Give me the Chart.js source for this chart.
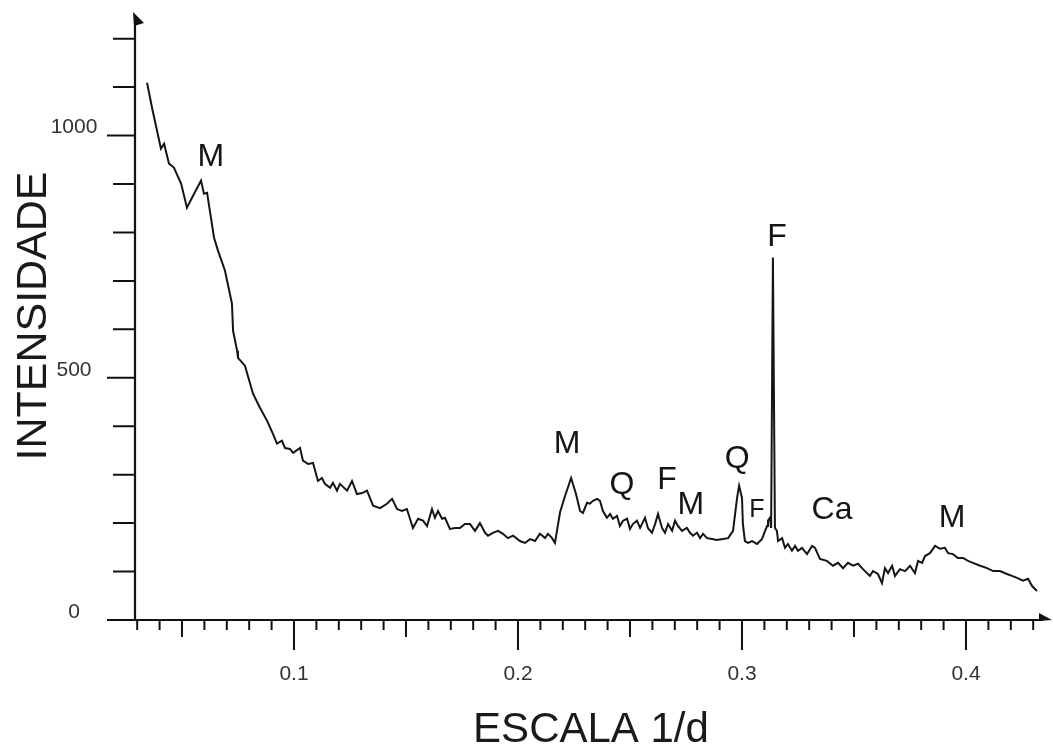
<!DOCTYPE html>
<html><head><meta charset="utf-8">
<script src="https://cdn.jsdelivr.net/npm/chart.js@4.4.0/dist/chart.umd.min.js"></script>
<style>html,body{margin:0;padding:0;background:#fff;}#wrap{width:1053px;height:746px;position:relative;}</style>
</head><body><div id="wrap"><canvas id="c" width="1053" height="746"></canvas></div>
<script>
// 1/d values (x) and intensities (y)
const xValues = [0.0344,0.0366,0.0406,0.0420,0.0442,0.0464,0.0496,0.0522,0.0554,0.0585,0.0598,0.0612,0.0621,0.0643,0.0661,0.0692,0.0723,0.0728,0.0746,0.0750,
0.0781,0.0804,0.0817,0.0848,0.0880,0.0906,0.0924,0.0946,0.0960,0.0982,0.0996,0.1027,0.1040,0.1063,0.1085,0.1107,0.1125,0.1138,0.1161,0.1174,
0.1192,0.1205,0.1237,0.1259,0.1281,0.1304,0.1326,0.1353,0.1384,0.1415,0.1438,0.1460,0.1482,0.1504,0.1531,0.1554,0.1576,0.1594,0.1616,0.1629,
0.1643,0.1661,0.1674,0.1696,0.1719,0.1741,0.1763,0.1786,0.1808,0.1830,0.1853,0.1866,0.1888,0.1911,0.1933,0.1955,0.1978,0.2009,0.2031,0.2054,
0.2076,0.2098,0.2121,0.2134,0.2152,0.2165,0.2188,0.2210,0.2237,0.2259,0.2277,0.2290,0.2308,0.2321,0.2335,0.2353,0.2366,0.2379,0.2397,0.2411,
0.2424,0.2442,0.2455,0.2469,0.2487,0.2500,0.2513,0.2531,0.2545,0.2567,0.2580,0.2598,0.2612,0.2625,0.2643,0.2656,0.2670,0.2688,0.2701,0.2714,
0.2732,0.2754,0.2768,0.2781,0.2799,0.2813,0.2826,0.2844,0.2866,0.2888,0.2915,0.2938,0.2960,0.2978,0.2987,0.3000,0.3004,0.3013,0.3027,0.3045,
0.3067,0.3089,0.3103,0.3112,0.3116,0.3125,0.3130,0.3138,0.3147,0.3156,0.3161,0.3179,0.3192,0.3205,0.3223,0.3237,0.3250,0.3268,0.3290,0.3313,
0.3326,0.3348,0.3379,0.3406,0.3429,0.3451,0.3473,0.3496,0.3518,0.3540,0.3571,0.3585,0.3607,0.3625,0.3638,0.3652,0.3670,0.3683,0.3705,0.3728,
0.3750,0.3772,0.3786,0.3804,0.3817,0.3839,0.3862,0.3884,0.3906,0.3920,0.3942,0.3964,0.3987,0.4009,0.4031,0.4063,0.4094,0.4121,0.4152,0.4183,
0.4205,0.4228,0.4254,0.4277,0.4295,0.4317];
const yValues = [1109,1058,973,983,942,934,901,851,880,907,880,882,855,789,762,721,653,597,556,541,
525,488,467,438,411,384,364,370,355,353,345,355,329,322,324,287,293,281,273,283,
267,281,267,287,260,262,267,236,231,240,250,229,225,229,190,209,205,194,229,211,
225,209,211,188,190,190,198,198,184,200,180,174,180,184,178,169,174,163,159,167,
163,178,169,178,169,159,223,256,293,260,225,221,242,240,246,250,246,225,211,219,
209,215,194,205,209,188,198,205,190,211,190,180,198,219,190,180,198,184,205,194,
184,190,180,174,180,169,178,169,167,165,167,169,184,252,277,252,198,163,159,163,
157,167,184,194,205,211,190,748,190,184,163,169,149,157,143,153,143,149,136,153,
149,126,122,112,118,107,118,112,116,105,91,101,95,76,107,97,112,91,105,101,
112,97,122,118,132,138,153,147,149,138,136,128,128,122,118,112,107,101,101,95,
91,87,81,85,70,60];
const xTickValues = [0.1, 0.2, 0.3, 0.4];
const yTickValues = [0, 500, 1000];
const peakNames = ['M','M','Q','F','M','Q','F','F','Ca','M'];
const peakX = [0.0629,0.2219,0.2464,0.2665,0.2772,0.2978,0.3067,0.3156,0.3402,0.3938];
const peakY = [955,362,279,289,238,333,227,791,227,211];

const FONT = '"Liberation Sans", Arial, Helvetica, sans-serif';
const mctx = document.createElement('canvas').getContext('2d');
mctx.font = '21px ' + FONT;
const widest = mctx.measureText('1000').width;

const axisPlugin = {
  id: 'axes',
  beforeDatasetsDraw(chart) {
    const {ctx, chartArea: a, scales: {x, y}} = chart;
    const y0 = y.getPixelForValue(0);
    ctx.save();
    ctx.strokeStyle = '#111';
    ctx.fillStyle = '#111';
    ctx.lineWidth = 2.2;
    ctx.beginPath();
    ctx.moveTo(a.left - 28, y0); ctx.lineTo(a.right - 4, y0);
    ctx.moveTo(a.left, y0 + 1); ctx.lineTo(a.left, a.top + 4);
    ctx.stroke();
    ctx.lineWidth = 2;
    ctx.beginPath();
    for (let k = 3; k <= 43; k++) {
      const px = x.getPixelForValue(k / 100);
      const len = k % 10 === 0 ? 30 : (k % 5 === 0 ? 17 : 10);
      ctx.moveTo(px, y0); ctx.lineTo(px, y0 + len);
    }
    for (let k = 1; k <= 12; k++) {
      const py = y.getPixelForValue(k * 100);
      const len = k % 5 === 0 ? 28 : 22;
      ctx.moveTo(a.left - len, py); ctx.lineTo(a.left, py);
    }
    ctx.stroke();
    // arrow heads
    ctx.beginPath();
    ctx.moveTo(a.left - 2, a.top); ctx.lineTo(a.left + 9, a.top + 11); ctx.lineTo(a.left - 1, a.top + 14);
    ctx.closePath(); ctx.fill();
    ctx.beginPath();
    ctx.moveTo(a.right - 8, y0 - 7); ctx.lineTo(a.right + 5, y0); ctx.lineTo(a.right - 8, y0 + 1);
    ctx.closePath(); ctx.fill();
    ctx.restore();
  }
};

const labelPlugin = {
  id: 'peaks',
  afterDatasetsDraw(chart) {
    const {ctx, scales: {x, y}} = chart;
    ctx.save();
    ctx.fillStyle = '#151515';
    ctx.textAlign = 'center';
    ctx.textBaseline = 'middle';
    peakNames.forEach((t, i) => {
      const small = (i === 6);
      ctx.font = (small ? '25px ' : '32px ') + FONT;
      ctx.fillText(t, x.getPixelForValue(peakX[i]), y.getPixelForValue(peakY[i]));
    });
    ctx.restore();
  }
};

new Chart(document.getElementById('c'), {
  type: 'line',
  data: {
    datasets: [{
      data: xValues.map((v, i) => ({x: v, y: yValues[i]})),
      borderColor: '#151515', borderWidth: 2, pointRadius: 0, tension: 0, fill: false
    }]
  },
  options: {
    responsive: false, animation: false, devicePixelRatio: 1,
    layout: {padding: {top: 12, right: 6, left: 0, bottom: 0}},
    plugins: {legend: {display: false}, tooltip: {enabled: false}},
    scales: {
      x: {
        type: 'linear', min: 0.02902, max: 0.43616,
        grid: {display: false, drawTicks: false}, border: {display: false},
        afterBuildTicks: s => { s.ticks = xTickValues.map(v => ({value: v})); },
        ticks: {callback: v => String(v), font: {family: FONT, size: 21}, color: '#333',
                padding: 42, maxRotation: 0, autoSkip: false},
        title: {display: true, text: 'ESCALA 1/d', font: {family: FONT, size: 42, lineHeight: 0.76}, color: '#1a1a1a',
                padding: {top: 0, bottom: 0}},
        afterFit: s => { s.height = 126; s.paddingLeft = 0; s.paddingRight = 0; }
      },
      y: {
        type: 'linear', min: 0, max: 1255,
        grid: {display: false, drawTicks: false}, border: {display: false},
        afterBuildTicks: s => { s.ticks = yTickValues.map(v => ({value: v})); },
        ticks: {callback: v => String(v), font: {family: FONT, size: 21}, color: '#333', crossAlign: 'center',
                padding: 61 - widest / 2, labelOffset: -8},
        title: {display: true, text: 'INTENSIDADE', font: {family: FONT, size: 43}, color: '#1a1a1a',
                padding: {top: 8, bottom: 0}},
        afterFit: s => { s.width = 135; s.paddingTop = 0; s.paddingBottom = 0; }
      }
    }
  },
  plugins: [axisPlugin, labelPlugin]
});
</script></body></html>
